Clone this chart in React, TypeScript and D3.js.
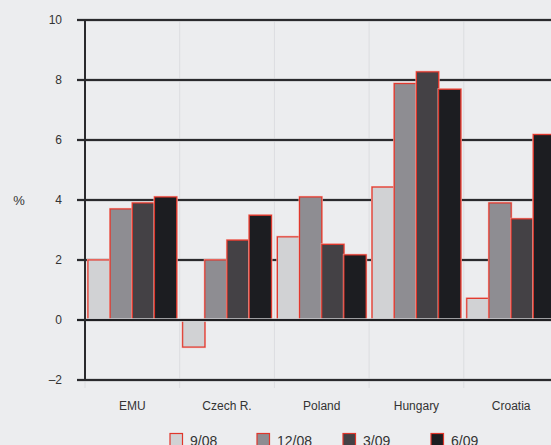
import React from "react";
import * as d3 from "d3";

const categories = ["EMU", "Czech R.", "Poland", "Hungary", "Croatia"];
const seriesNames = ["9/08", "12/08", "3/09", "6/09"];
const s0908 = [2.0, -0.9, 2.77, 4.43, 0.72];
const s1208 = [3.7, 2.0, 4.1, 7.88, 3.9];
const s0309 = [3.9, 2.66, 2.52, 8.27, 3.37];
const s0609 = [4.1, 3.49, 2.17, 7.69, 6.18];
const yTicks = [-2, 0, 2, 4, 6, 8, 10];
const yTickLabels = ["\u20132", "0", "2", "4", "6", "8", "10"];

const seriesValues = [s0908, s1208, s0309, s0609];
const fills = ["#d1d2d4", "#8e8d92", "#444145", "#1c1d21"];

const W = 551;
const H = 445;
const left = 85;
const bandW = 94.7;
const font = "'Liberation Sans', Arial, sans-serif";

export default function App() {
  const x = d3
    .scaleBand<string>()
    .domain(categories)
    .range([left, left + bandW * categories.length])
    .paddingInner(0)
    .paddingOuter(0);
  const xs = d3
    .scaleBand<string>()
    .domain(seriesNames)
    .range([3, bandW - 3])
    .padding(0);
  const y = d3.scaleLinear().domain([-2, 10]).range([380, 20]);

  const plotRight = left + bandW * categories.length;

  return (
    <svg
      width={W}
      height={H}
      style={{ position: "absolute", left: 0, top: 0, display: "block" }}
      fontFamily={font}
    >
      <rect x={0} y={0} width={W} height={H} fill="#ecedef" />

      {/* vertical light separators between countries */}
      {categories.map((c) => (
        <line
          key={"v" + c}
          x1={x(c)!}
          x2={x(c)!}
          y1={y(10)}
          y2={388}
          stroke="#dcdde0"
          strokeWidth={1}
        />
      ))}

      {/* horizontal grid */}
      {yTicks
        .filter((t) => t !== 0)
        .map((t) => (
          <g key={"g" + t}>
            <line x1={77} x2={plotRight} y1={y(t)} y2={y(t)} stroke="#c9cacd" strokeWidth={3.5} />
            <line x1={77} x2={plotRight} y1={y(t)} y2={y(t)} stroke="#2a2a2d" strokeWidth={2} />
          </g>
        ))}

      {/* bars */}
      {categories.map((c, ci) => (
        <g key={"b" + c} transform={`translate(${x(c)},0)`}>
          {seriesNames.map((s, si) => {
            const v = seriesValues[si][ci];
            const y0 = y(Math.max(0, v));
            const y1 = y(Math.min(0, v));
            return (
              <g key={s}>
                <rect
                  x={xs(s)!}
                  y={y0}
                  width={xs.bandwidth()}
                  height={y1 - y0}
                  fill={fills[si]}
                  stroke="#f2a49d"
                  strokeWidth={2.2}
                />
                <rect
                  x={xs(s)!}
                  y={y0}
                  width={xs.bandwidth()}
                  height={y1 - y0}
                  fill={fills[si]}
                  stroke="#e0362b"
                  strokeWidth={1.1}
                />
              </g>
            );
          })}
        </g>
      ))}

      {/* zero line */}
      <line x1={77} x2={plotRight} y1={y(0)} y2={y(0)} stroke="#c9cacd" strokeWidth={3.5} />
      <line x1={77} x2={plotRight} y1={y(0)} y2={y(0)} stroke="#1f1f22" strokeWidth={2} />

      {/* y axis */}
      <line x1={left} x2={left} y1={y(10) - 1} y2={y(-2) + 1} stroke="#2a2a2d" strokeWidth={2} />

      {yTicks.map((t, i) => (
        <text
          key={"t" + t}
          x={62}
          y={y(t)}
          dy="0.35em"
          textAnchor="end"
          fontSize={12}
          fill="#333"
        >
          {yTickLabels[i]}
        </text>
      ))}
      <text x={19} y={200} dy="0.35em" textAnchor="middle" fontSize={13} fill="#333">
        %
      </text>

      {categories.map((c) => (
        <text
          key={"c" + c}
          x={x(c)! + bandW / 2}
          y={410}
          textAnchor="middle"
          fontSize={12}
          fill="#333"
        >
          {c}
        </text>
      ))}

      {/* legend */}
      {seriesNames.map((s, i) => {
        const lx = [170, 257, 343, 431][i];
        return (
          <g key={"l" + s}>
            <rect x={lx} y={433.5} width={12.5} height={14} fill={fills[i]} stroke="#e0362b" strokeWidth={1.2} />
            <text x={lx + 20} y={446} fontSize={14} fill="#333">
              {s}
            </text>
          </g>
        );
      })}
    </svg>
  );
}
